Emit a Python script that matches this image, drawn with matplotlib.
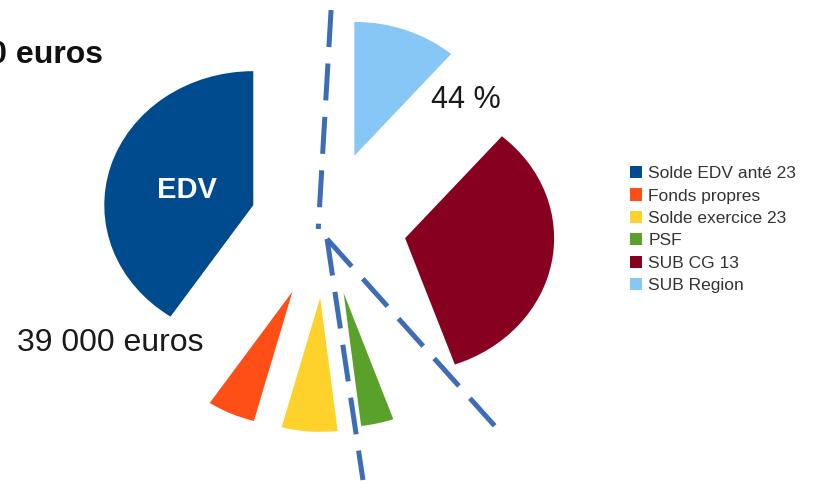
import matplotlib
matplotlib.use('Agg')
import matplotlib.pyplot as plt
from matplotlib.patches import Patch

plt.rcParams['font.family'] = ['Liberation Sans', 'DejaVu Sans']

legend_labels = ['Solde EDV anté 23', 'Fonds propres', 'Solde exercice 23', 'PSF', 'SUB CG 13', 'SUB Region']
amounts = [39000, 5000, 5800, 3400, 32000, 10800]
colors = ['#004b8d', '#ff4f17', '#ffd22b', '#5aa12c', '#87001f', '#86c7f5']
explode = [0.51, 0.545, 0.545, 0.52, 0.54, 0.55]

total_text = '96 000 euros'
edv_text = '39 000 euros'
subs_text = '44 %'

# guide lines drawn over the pie (data units, pie radius = 1)
guide_lines = [
    [(0.034, 1.604), (-0.052, -0.03)],
    [(0.007, -0.104), (1.145, -1.515)],
    [(0.007, -0.104), (0.248, -1.903)],
]


def plot_pie(output_file):
    fig = plt.figure(figsize=(8.17, 4.84), dpi=100)
    ax = fig.add_axes([0, 0, 1, 1])

    ax.pie(amounts, colors=colors, explode=explode, startangle=90,
           counterclock=True, radius=1, wedgeprops={'linewidth': 0})

    # stretched look: the pie is wider than tall
    ax.set_aspect('auto')
    ax.set_xlim(-326 / 149, (817 - 326) / 149)
    ax.set_ylim(-(484 - 225) / 134, 225 / 134)
    ax.axis('off')

    line_color = '#3d6db4'
    for pts in guide_lines:
        xs = [p[0] for p in pts]
        ys = [p[1] for p in pts]
        ax.plot(xs, ys, color=line_color, linewidth=3.6, dashes=(7.4, 3.3),
                solid_capstyle='butt', dash_capstyle='butt', zorder=5)

    ax.text(-0.933, 0.261, 'EDV', color='white', fontsize=21, fontweight='bold',
            ha='center', va='center')
    ax.text(-1.45, -0.88, edv_text, color='#1a1a1a', fontsize=23,
            ha='center', va='center')
    ax.text(0.94, 0.93, subs_text, color='#1a1a1a', fontsize=22,
            ha='center', va='center')
    ax.text(-1.497, 1.27, total_text, color='#111111', fontsize=23,
            fontweight='bold', ha='right', va='center')

    handles = [Patch(facecolor=c, edgecolor='none') for c in colors]
    fig.legend(handles, legend_labels, loc='upper left',
               bbox_to_anchor=(630 / 817, 1 - 166 / 484),
               frameon=False, fontsize=12.5, handlelength=0.7, handleheight=0.7,
               handletextpad=0.35, labelspacing=0.42, borderpad=0, borderaxespad=0,
               labelcolor='#333333')

    fig.savefig(output_file, dpi=100)


if __name__ == '__main__':
    plot_pie('out.png')
